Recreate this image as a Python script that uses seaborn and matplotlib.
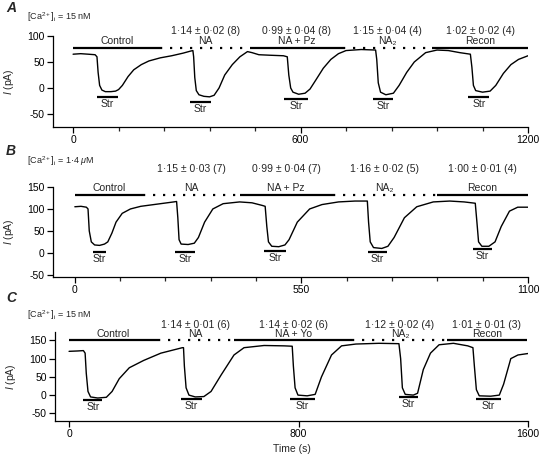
import numpy as np
import pandas as pd
import seaborn as sns
import matplotlib.pyplot as plt
from matplotlib.ticker import MultipleLocator

# Painel A: [Ca2+]i = 15 nM
a_tempo = [0, 20, 40, 58, 63, 66, 70, 76, 85, 100, 112, 120, 130, 145, 160, 180, 200, 230,
           260, 290, 310, 316, 318, 321, 325, 332, 345, 360, 372, 385, 400, 420, 440, 460,
           472, 490, 520, 555, 565, 569, 574, 580, 595, 612, 625, 640, 660, 680, 700, 720,
           760, 798, 801, 805, 811, 825, 845, 860, 880, 900, 930, 960, 990, 1020, 1048,
           1052, 1056, 1062, 1080, 1100, 1115, 1135, 1155, 1175, 1200]
a_corrente = [65, 66, 65, 64, 60, 30, 5, -4, -7, -7, -6, -3, 5, 22, 35, 45, 52, 58,
              62, 67, 71, 72, 60, 20, -5, -13, -16, -17, -14, 0, 25, 45, 60, 70,
              68, 64, 63, 62, 60, 25, 0, -8, -12, -10, -2, 15, 38, 55, 66, 72,
              74, 73, 55, 10, -8, -13, -10, 5, 30, 50, 68, 73, 72, 68, 65,
              40, 5, -5, -8, -6, 5, 28, 45, 55, 62]
a_barra_inicio = [0, 230, 467, 712, 947]
a_barra_fim = [230, 467, 712, 947, 1200]
a_stats = ['', '1·14 ± 0·02 (8)', '0·99 ± 0·04 (8)', '1·15 ± 0·04 (4)', '1·02 ± 0·02 (4)']
a_nomes = ['Control', 'NA', 'NA + Pz', 'NA\u2082', 'Recon']
a_str_inicio = [63, 309, 557, 792, 1042]
a_str_fim = [119, 364, 620, 844, 1098]
a_str_nivel = [-18, -27, -21, -21, -17]

# Painel B: [Ca2+]i = 1.4 uM
b_tempo = [0, 15, 28, 32, 35, 40, 48, 60, 72, 80, 90, 100, 115, 135, 160, 200, 240, 247,
           250, 253, 258, 275, 290, 300, 315, 335, 360, 400, 430, 455, 462, 466, 470, 478,
           495, 510, 520, 540, 570, 600, 640, 680, 710, 713, 717, 725, 745, 760, 775, 800,
           830, 870, 910, 945, 972, 976, 980, 988, 1005, 1020, 1035, 1055, 1075, 1100]
b_corrente = [105, 106, 104, 100, 50, 25, 18, 17, 20, 25, 45, 70, 90, 100, 106, 111, 116, 117,
              80, 30, 20, 19, 22, 35, 70, 100, 112, 116, 114, 108, 106, 60, 25, 15,
              14, 18, 30, 70, 100, 110, 116, 118, 118, 70, 25, 12, 10, 15, 35, 80,
              105, 116, 118, 116, 113, 70, 25, 15, 15, 25, 60, 95, 104, 104]
b_barra_inicio = [0, 165, 400, 626, 879]
b_barra_fim = [165, 400, 626, 879, 1100]
b_stats = ['', '1·15 ± 0·03 (7)', '0·99 ± 0·04 (7)', '1·16 ± 0·02 (5)', '1·00 ± 0·01 (4)']
b_nomes = ['Control', 'NA', 'NA + Pz', 'NA\u2082', 'Recon']
b_str_inicio = [44, 243, 459, 712, 966]
b_str_fim = [75, 291, 512, 758, 1013]
b_str_nivel = [3, 3, 5, 3, 9]

# Painel C: [Ca2+]i = 15 nM, Yo
c_tempo = [0, 30, 50, 56, 60, 66, 75, 100, 130, 150, 175, 210, 260, 320, 360, 395, 399, 402,
           408, 418, 440, 470, 495, 530, 575, 610, 680, 750, 778, 782, 788, 798, 830, 858,
           880, 915, 950, 1000, 1080, 1150, 1156, 1162, 1172, 1200, 1215, 1235, 1260, 1290,
           1340, 1390, 1408, 1413, 1420, 1430, 1470, 1500, 1515, 1540, 1565, 1600]
c_corrente = [120, 121, 122, 115, 60, 10, -5, -8, -6, 10, 45, 75, 95, 115, 123, 130, 130, 80,
              20, 0, -5, -4, 10, 55, 110, 130, 136, 135, 134, 80, 20, 0, -2, 2,
              50, 110, 135, 140, 142, 141, 100, 20, 2, 0, 5, 70, 115, 138,
              142, 135, 130, 80, 15, -2, -3, 0, 30, 100, 110, 114]
c_barra_inicio = [0, 309, 574, 988, 1319]
c_barra_fim = [309, 574, 988, 1319, 1595]
c_stats = ['', '1·14 ± 0·01 (6)', '1·14 ± 0·02 (6)', '1·12 ± 0·02 (4)', '1·01 ± 0·01 (3)']
c_nomes = ['Control', 'NA', 'NA + Yo', 'NA\u2082', 'Recon']
c_str_inicio = [50, 389, 769, 1152, 1417]
c_str_fim = [116, 465, 856, 1215, 1507]
c_str_nivel = [-14, -11, -11, -6, -11]

sns.set_style('ticks')
plt.rcParams['font.family'] = ['Liberation Sans', 'DejaVu Sans']
plt.rcParams['mathtext.fontset'] = 'custom'
plt.rcParams['mathtext.rm'] = 'Liberation Sans'
plt.rcParams['mathtext.it'] = 'Liberation Sans:italic'
plt.rcParams['axes.unicode_minus'] = False

W, H = 543, 462
fig = plt.figure(figsize=(W / 100, H / 100), dpi=100)


def eixo(esq, topo, dir, base):
    return fig.add_axes([esq / W, 1 - base / H, (dir - esq) / W, (base - topo) / H])


paineis = [
    dict(ax=eixo(53, 36, 528, 127), t=a_tempo, i=a_corrente, xlim=(-53, 1200), ylim=(-75, 100),
         xt=[0, 600, 1200], menor=120, yt=[-50, 0, 50, 100],
         bi=a_barra_inicio, bf=a_barra_fim, stats=a_stats, nomes=a_nomes,
         yb=77, yn=84, ys=103, si=a_str_inicio, sf=a_str_fim, sn=a_str_nivel,
         letra='A', cond='[Ca$^{2+}$]$_{\\rm i}$ = 15 nM', yl=8, yc=17),
    dict(ax=eixo(53, 187, 528, 277), t=b_tempo, i=b_corrente, xlim=(-53, 1100), ylim=(-55, 150),
         xt=[0, 550, 1100], menor=110, yt=[-50, 0, 50, 100, 150],
         bi=b_barra_inicio, bf=b_barra_fim, stats=b_stats, nomes=b_nomes,
         yb=132, yn=141, ys=185, si=b_str_inicio, sf=b_str_fim, sn=b_str_nivel,
         letra='B', cond='[Ca$^{2+}$]$_{\\rm i}$ = 1·4 $\\mu$M', yl=151, yc=161),
    dict(ax=eixo(55, 332, 528, 421), t=c_tempo, i=c_corrente, xlim=(-49, 1600), ylim=(-71, 173),
         xt=[0, 800, 1600], menor=None, yt=[-50, 0, 50, 100, 150],
         bi=c_barra_inicio, bf=c_barra_fim, stats=c_stats, nomes=c_nomes,
         yb=150, yn=160, ys=185, si=c_str_inicio, sf=c_str_fim, sn=c_str_nivel,
         letra='C', cond='[Ca$^{2+}$]$_{\\rm i}$ = 15 nM', yl=298, yc=315),
]

for p in paineis:
    ax = p['ax']
    df = pd.DataFrame({'tempo': p['t'], 'corrente': p['i']})
    sns.lineplot(data=df, x='tempo', y='corrente', ax=ax, color='black', linewidth=1.0,
                 estimator=None, sort=False)
    ax.set_xlim(*p['xlim'])
    ax.set_ylim(*p['ylim'])
    ax.set_xticks(p['xt'])
    if p['menor']:
        ax.xaxis.set_minor_locator(MultipleLocator(p['menor']))
    ax.set_yticks(p['yt'])
    ax.tick_params(labelsize=7.5, length=4, width=0.9, pad=2, colors='black')
    ax.tick_params(which='minor', length=3, width=0.9)
    for s in ['top', 'right']:
        ax.spines[s].set_visible(False)
    for s in ['left', 'bottom']:
        ax.spines[s].set_linewidth(0.9)
        ax.spines[s].set_color('black')
    ax.set_xlabel('')
    ax.set_ylabel('$I$ (pA)', fontsize=7.5)
    ax.yaxis.set_label_coords((16 - 53) / 475, 0.5)

    # barras de condicao
    for k in range(len(p['bi'])):
        x0, x1 = p['bi'][k], p['bf'][k]
        if k % 2 == 0:
            ax.plot([x0, x1], [p['yb'], p['yb']], color='black', lw=1.6,
                    solid_capstyle='butt', clip_on=False)
        else:
            ax.plot([x0, x1], [p['yb'], p['yb']], color='black', lw=1.6,
                    linestyle=(0, (1, 3.5)), dash_capstyle='butt', clip_on=False)
        xm = (x0 + x1) / 2
        ax.text(xm, p['yn'], p['nomes'][k], ha='center', va='baseline', fontsize=7.5,
                clip_on=False)
        if p['stats'][k]:
            ax.text(xm, p['ys'], p['stats'][k], ha='center', va='baseline', fontsize=7.5,
                    clip_on=False)

    # barras Str
    for x0, x1, yv in zip(p['si'], p['sf'], p['sn']):
        ax.plot([x0, x1], [yv, yv], color='black', lw=1.6, solid_capstyle='butt', clip_on=False)
        ax.annotate('Str', ((x0 + x1) / 2, yv), xytext=(0, -1.5), textcoords='offset points',
                    ha='center', va='top', fontsize=7.5)

    fig.text(11 / W, 1 - p['yl'] / H, p['letra'], fontsize=10, fontweight='bold',
             fontstyle='italic', ha='center', va='center')
    fig.text(27 / W, 1 - p['yc'] / H, p['cond'], fontsize=6.5, ha='left', va='center')

paineis[2]['ax'].set_xlabel('Time (s)', fontsize=7.5, labelpad=3)

fig.savefig('out.png', dpi=100)
